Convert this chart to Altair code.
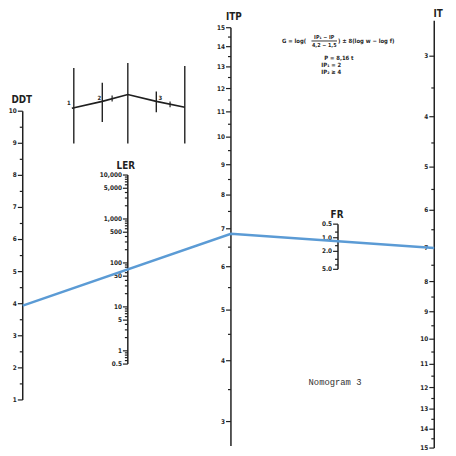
import altair as alt
import pandas as pd

# ---------------- scale values ----------------
ddt_major = [1, 2, 3, 4, 5, 6, 7, 8, 9, 10]
ddt_minor = [1.5, 2.5, 3.5, 4.5, 5.5, 6.5, 7.5, 8.5, 9.5]

ler_major = [0.5, 1, 5, 10, 50, 100, 500, 1000, 5000, 10000]
ler_labels = ["0.5", "1", "5", "10", "50", "100", "500", "1,000", "5,000", "10,000"]
ler_minor = [0.6, 0.7, 0.8, 0.9, 2, 3, 4, 6, 7, 8, 9, 20, 30, 40, 60, 70, 80, 90,
             200, 300, 400, 600, 700, 800, 900, 2000, 3000, 4000, 6000, 7000, 8000, 9000]

itp_major = [3, 4, 5, 6, 7, 8, 9, 10, 11, 12, 13, 14, 15]
itp_minor = [3.5, 4.5, 5.5, 6.5, 7.5, 8.5, 9.5, 10.5, 11.5, 12.5, 13.5, 14.5]

fr_major = [0.5, 1.0, 2.0, 5.0]
fr_labels = ["0.5", "1.0", "2.0", "5.0"]
fr_minor = [0.75, 1.5, 3, 4]

it_major = [3, 4, 5, 6, 7, 8, 9, 10, 11, 12, 13, 14, 15]
it_minor = [3.5, 4.5, 5.5, 6.5, 7.5, 8.5, 9.5, 10.5, 11.5, 12.5, 13.5, 14.5]

# reading traced across the nomogram (blue line)
reading_axes = ["DDT", "ITP", "IT"]
reading_values = [3.94, 6.86, 7.0]

# ---------------- layout of each scale (position, anchors, type) ----------------
layout = pd.DataFrame([
    dict(axis="DDT", ax=23, kind="lin", va=10, ya=109, vb=1, yb=403, lo=1, hi=10, tx=22, ty=98),
    dict(axis="LER", ax=130, kind="log", va=10000, ya=174, vb=1, yb=353, lo=0.5, hi=10000, tx=128, ty=165),
    dict(axis="ITP", ax=235, kind="logc", va=15, ya=24, vb=3, yb=425, lo=2.65, hi=15, tx=238, ty=13),
    dict(axis="FR", ax=344, kind="log", va=0.5, ya=224, vb=5, yb=270, lo=0.5, hi=5, tx=343, ty=215),
    dict(axis="IT", ax=442, kind="logc", va=3, ya=53, vb=15, yb=452, lo=2.5, hi=15, tx=446, ty=10),
])


def rows(axis, major, labels, minor):
    r = [dict(axis=axis, v=v, label=l, major=True) for v, l in zip(major, labels)]
    r += [dict(axis=axis, v=v, label="", major=False) for v in minor]
    return r


tick_rows = (rows("DDT", ddt_major, [str(v) for v in ddt_major], ddt_minor)
             + rows("LER", ler_major, ler_labels, ler_minor)
             + rows("ITP", itp_major, [str(v) for v in itp_major], itp_minor)
             + rows("FR", fr_major, fr_labels, fr_minor)
             + rows("IT", it_major, [str(v) for v in it_major], it_minor))
ticks = pd.DataFrame(tick_rows).merge(layout, on="axis")

ends = pd.concat([
    layout.assign(v=layout["lo"]),
    layout.assign(v=layout["hi"]),
])

reading = pd.DataFrame({"axis": reading_axes, "v": reading_values}).merge(layout, on="axis")


def F(e):
    return (f"(datum.kind == 'lin' ? {e} : (datum.kind == 'log' ? log({e}) / LN10 "
            f": log({e} + 1.5) / LN10))")


YPOS = (f"datum.ya + ({F('datum.v')} - {F('datum.va')}) / "
        f"({F('datum.vb')} - {F('datum.va')}) * (datum.yb - datum.ya)")

XS = alt.Scale(domain=[8, 456])
YS = alt.Scale(domain=[8, 456], reverse=True)
INK = "#1f1f1f"
FONT = "DejaVu Sans Condensed"


def base(df):
    return alt.Chart(df).transform_calculate(y=YPOS)


axis_lines = base(ends).mark_line(color=INK, strokeWidth=1.5).encode(
    x=alt.X("ax:Q", scale=XS, axis=None),
    y=alt.Y("y:Q", scale=YS, axis=None),
    detail="axis:N",
)

tick_marks = base(ticks).transform_calculate(
    xt="datum.ax - (datum.major ? 5 : 3)"
).mark_rule(color=INK, strokeWidth=1.2).encode(
    x=alt.X("ax:Q", scale=XS, axis=None),
    x2="xt:Q",
    y=alt.Y("y:Q", scale=YS, axis=None),
)

tick_labels = base(ticks).transform_filter("datum.major").transform_calculate(
    xl="datum.ax - 6"
).mark_text(align="right", baseline="middle", font=FONT, fontSize=6.5,
            fontWeight="bold", color=INK).encode(
    x=alt.X("xl:Q", scale=XS, axis=None),
    y=alt.Y("y:Q", scale=YS, axis=None),
    text="label:N",
)

titles = alt.Chart(layout).mark_text(align="center", baseline="middle", font=FONT,
                                     fontSize=10, fontWeight="bold", color=INK).encode(
    x=alt.X("tx:Q", scale=XS, axis=None),
    y=alt.Y("ty:Q", scale=YS, axis=None),
    text="axis:N",
)

blue = base(reading).mark_line(color="#5b9bd5", strokeWidth=2.6).encode(
    x=alt.X("ax:Q", scale=XS, axis=None),
    y=alt.Y("y:Q", scale=YS, axis=None),
    order="ax:Q",
)

# ---------------- inset schematic ----------------
inset_x = [75, 104, 130, 159, 188]
inset_top = [65, 80, 60, 89, 63]
inset_bottom = [142, 120, 142, 110, 142]
path_x = [73, 104, 130, 159, 188]
path_y = [106, 99, 92, 99, 105]
dash_x = [114, 173]
dash_y = [96, 102]
inset_lab = ["1", "2", "3"]
inset_lab_x = [70, 101, 163]
inset_lab_y = [101, 96, 96]

inset_v = alt.Chart(pd.DataFrame({"x": inset_x, "y": inset_top, "y2": inset_bottom})).mark_rule(
    color=INK, strokeWidth=1.4).encode(
    x=alt.X("x:Q", scale=XS, axis=None), y=alt.Y("y:Q", scale=YS, axis=None), y2="y2:Q")
inset_path = alt.Chart(pd.DataFrame({"x": path_x, "y": path_y})).mark_line(
    color=INK, strokeWidth=1.6).encode(
    x=alt.X("x:Q", scale=XS, axis=None), y=alt.Y("y:Q", scale=YS, axis=None), order="x:Q")
inset_d = alt.Chart(pd.DataFrame({"x": dash_x, "y": dash_y})).transform_calculate(
    y1="datum.y - 3", y2="datum.y + 3").mark_rule(color=INK, strokeWidth=1.2).encode(
    x=alt.X("x:Q", scale=XS, axis=None), y=alt.Y("y1:Q", scale=YS, axis=None), y2="y2:Q")
inset_t = alt.Chart(pd.DataFrame({"x": inset_lab_x, "y": inset_lab_y, "t": inset_lab})).mark_text(
    font=FONT, fontSize=6, fontWeight="bold", color=INK).encode(
    x=alt.X("x:Q", scale=XS, axis=None), y=alt.Y("y:Q", scale=YS, axis=None), text="t:N")

# ---------------- formula and caption ----------------
f_text = ["G = log(", "IP\u2081 \u2212 IP", "4,2 \u2212 1,5", ") \u00b1 8(log w \u2212 log f)",
          "P = 8,16 t", "IP\u2081 = 2", "IP\u2082 \u2265 4"]
f_x = [287, 330, 330, 344, 330, 327, 327]
f_y = [38, 33, 42, 38, 55, 62, 69]
f_align = ["left", "center", "center", "left", "left", "left", "left"]
fdf = pd.DataFrame({"x": f_x, "y": f_y, "t": f_text, "a": f_align})

formula_left = alt.Chart(fdf).transform_filter("datum.a == 'left'").mark_text(
    font=FONT, fontSize=6, fontWeight="bold", color=INK, baseline="middle", align="left").encode(
    x=alt.X("x:Q", scale=XS, axis=None), y=alt.Y("y:Q", scale=YS, axis=None), text="t:N")
formula_center = alt.Chart(fdf).transform_filter("datum.a == 'center'").mark_text(
    font=FONT, fontSize=5.5, fontWeight="bold", color=INK, baseline="middle", align="center").encode(
    x=alt.X("x:Q", scale=XS, axis=None), y=alt.Y("y:Q", scale=YS, axis=None), text="t:N")
frac_bar = alt.Chart(pd.DataFrame({"x": [317], "x2": [343], "y": [37.5]})).mark_rule(
    color=INK, strokeWidth=0.9).encode(
    x=alt.X("x:Q", scale=XS, axis=None), x2="x2:Q", y=alt.Y("y:Q", scale=YS, axis=None))

caption = alt.Chart(pd.DataFrame({"x": [314], "y": [385], "t": ["Nomogram  3"]})).mark_text(
    font="Liberation Mono", fontSize=9, color="#333333", align="left", baseline="middle").encode(
    x=alt.X("x:Q", scale=XS, axis=None), y=alt.Y("y:Q", scale=YS, axis=None), text="t:N")

chart = alt.layer(
    inset_v, inset_path, inset_d, inset_t,
    axis_lines, tick_marks, tick_labels, titles,
    formula_left, formula_center, frac_bar, caption,
    blue,
).properties(width=448, height=448, padding=0, autosize="none", background="white"
             ).configure_view(stroke=None)

chart.save("out.html", embed_options={"renderer": "svg", "actions": False})
